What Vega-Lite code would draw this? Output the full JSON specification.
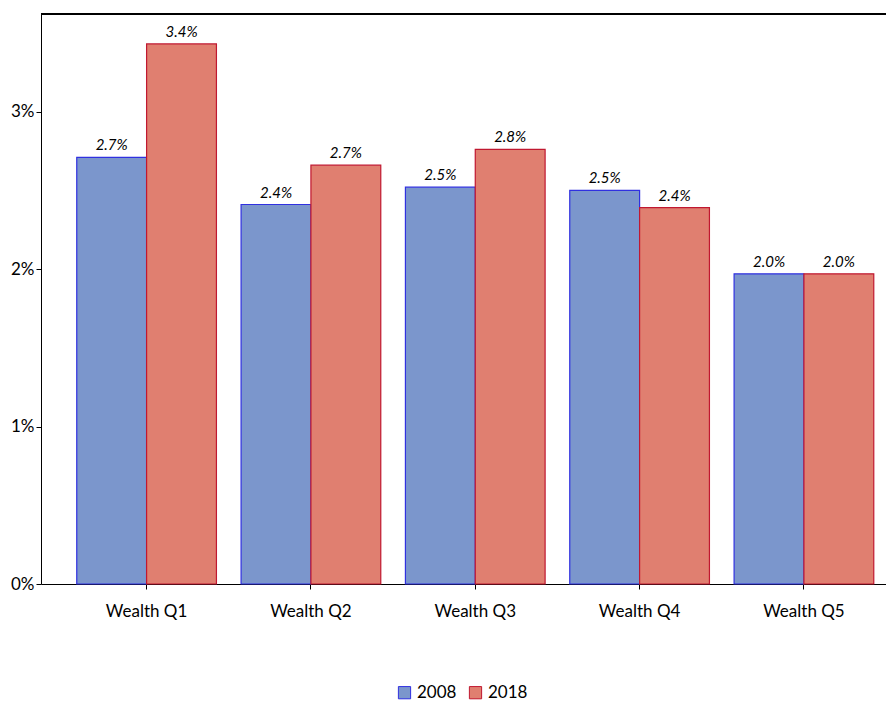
{
  "$schema": "https://vega.github.io/schema/vega-lite/v6.json",
  "width": 846,
  "height": 570,
  "padding": {"left": 10, "top": 13, "right": 0, "bottom": 0},
  "autosize": {"type": "pad"},
  "data": {
    "values": [
      {"group": "Wealth Q1", "year": "2008", "share": 2.71, "label": "2.7%"},
      {"group": "Wealth Q1", "year": "2018", "share": 3.43, "label": "3.4%"},
      {"group": "Wealth Q2", "year": "2008", "share": 2.41, "label": "2.4%"},
      {"group": "Wealth Q2", "year": "2018", "share": 2.66, "label": "2.7%"},
      {"group": "Wealth Q3", "year": "2008", "share": 2.52, "label": "2.5%"},
      {"group": "Wealth Q3", "year": "2018", "share": 2.76, "label": "2.8%"},
      {"group": "Wealth Q4", "year": "2008", "share": 2.5, "label": "2.5%"},
      {"group": "Wealth Q4", "year": "2018", "share": 2.39, "label": "2.4%"},
      {"group": "Wealth Q5", "year": "2008", "share": 1.97, "label": "2.0%"},
      {"group": "Wealth Q5", "year": "2018", "share": 1.97, "label": "2.0%"}
    ]
  },
  "encoding": {
    "x": {
      "field": "group", "type": "nominal", "title": null,
      "scale": {"paddingInner": 0.15, "paddingOuter": 0.149, "align": 0.73},
      "axis": {"labelAngle": 0, "labelFontSize": 17, "labelPadding": 14, "domainColor": "black", "tickColor": "black", "labelColor": "black"}
    },
    "xOffset": {"field": "year", "type": "nominal", "scale": {"paddingInner": 0}},
    "y": {
      "field": "share", "type": "quantitative", "title": null,
      "scale": {"domain": [0, 3.62], "nice": false},
      "axis": {"values": [0, 1, 2, 3], "labelExpr": "datum.value + '%'", "grid": false, "labelFontSize": 17, "domainColor": "black", "tickColor": "black", "labelColor": "black"}
    }
  },
  "layer": [
    {
      "mark": {"type": "bar", "strokeWidth": 1.2},
      "encoding": {
        "color": {
          "field": "year", "type": "nominal", "title": null,
          "scale": {"domain": ["2008", "2018"], "range": ["#7b96cc", "#e07f70"]},
          "legend": {"orient": "none", "legendX": 355, "legendY": 670, "direction": "horizontal", "symbolType": "square", "symbolSize": 150, "symbolStrokeWidth": 1, "labelFontSize": 17, "labelColor": "black"}
        },
        "stroke": {
          "field": "year", "type": "nominal",
          "scale": {"domain": ["2008", "2018"], "range": ["#3030e0", "#c01830"]},
          "legend": null
        }
      }
    },
    {
      "mark": {"type": "text", "dy": -12, "fontStyle": "italic", "fontSize": 15, "color": "black"},
      "encoding": {"text": {"field": "label"}}
    },
    {
      "mark": {"type": "rule", "color": "black", "strokeWidth": 1.5},
      "encoding": {"y": {"datum": 3.62}, "x": null, "xOffset": null}
    }
  ],
  "config": {
    "font": "Lato",
    "view": {"stroke": null},
    "axis": {"labelFont": "Lato"},
    "legend": {"labelFont": "Lato"}
  }
}
